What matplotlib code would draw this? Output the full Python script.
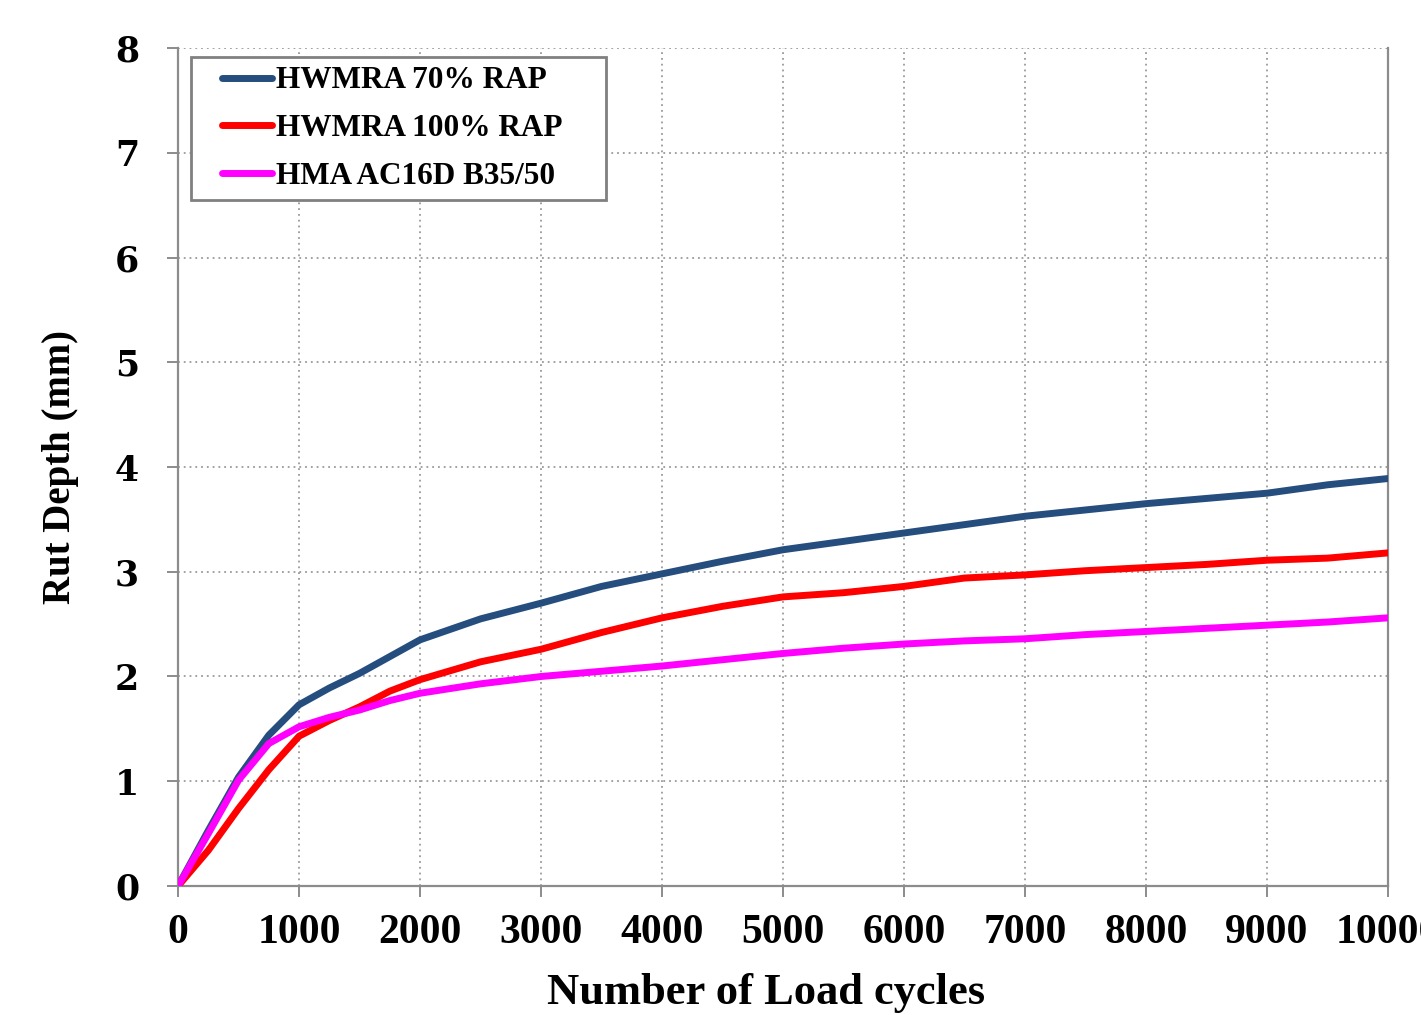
import numpy as np
import matplotlib
matplotlib.use("Agg")
import matplotlib.pyplot as plt
from matplotlib.patches import Rectangle

cycles = [0, 250, 500, 750, 1000, 1250, 1500, 1750, 2000, 2500, 3000, 3500, 4000,
          4500, 5000, 5500, 6000, 6500, 7000, 7500, 8000, 8500, 9000, 9500, 10000]

hwmra_70 = [0, 0.53, 1.04, 1.44, 1.73, 1.89, 2.03, 2.19, 2.35, 2.55, 2.70, 2.86, 2.98,
            3.10, 3.21, 3.29, 3.37, 3.45, 3.53, 3.59, 3.65, 3.70, 3.75, 3.83, 3.89]
hwmra_100 = [0, 0.34, 0.74, 1.11, 1.43, 1.58, 1.71, 1.86, 1.97, 2.14, 2.26, 2.42, 2.56,
             2.67, 2.76, 2.80, 2.86, 2.94, 2.97, 3.01, 3.04, 3.07, 3.11, 3.13, 3.18]
hma = [0, 0.50, 1.01, 1.36, 1.52, 1.61, 1.68, 1.77, 1.84, 1.93, 2.00, 2.05, 2.10,
       2.16, 2.22, 2.27, 2.31, 2.34, 2.36, 2.40, 2.43, 2.46, 2.49, 2.52, 2.56]

series_labels = ["HWMRA 70% RAP", "HWMRA 100% RAP", "HMA AC16D B35/50"]
series_colors = ["#254E7E", "#FF0000", "#FF00FF"]

x_ticks = list(range(0, 10001, 1000))
y_ticks = list(range(0, 9))

serif = "Liberation Serif"
gray = "#8C8C8C"

fig = plt.figure(figsize=(14.21, 10.15), dpi=100)
ax = fig.add_axes([0.1253, 0.1271, 0.8515, 0.8256])

for ys, lab, col in zip([hwmra_70, hwmra_100, hma], series_labels, series_colors):
    ax.plot(cycles, ys, color=col, lw=5, label=lab, solid_capstyle="round",
            solid_joinstyle="round", zorder=3)

ax.set_xlim(0, 10000)
ax.set_ylim(0, 8)
ax.set_xticks(x_ticks)
ax.set_yticks(y_ticks)
ax.set_xticklabels([str(v) for v in x_ticks], fontfamily=serif, fontweight="bold", fontsize=30)
ax.set_yticklabels([str(v) for v in y_ticks], fontfamily="DejaVu Serif", fontweight="bold", fontsize=25)

ax.grid(True, color="#9A9A9A", linestyle=(0, (1, 2.2)), linewidth=1.3)
ax.set_axisbelow(True)

ax.spines["top"].set_visible(False)
for s in ["left", "bottom", "right"]:
    ax.spines[s].set_color(gray)
    ax.spines[s].set_linewidth(1.6)
ax.tick_params(axis="both", direction="out", length=8, width=1.4, color=gray)
ax.tick_params(axis="x", pad=12)
ax.tick_params(axis="y", pad=20)

ax.set_xlabel("Number of Load cycles", fontfamily=serif, fontweight="bold", fontsize=32)
ax.xaxis.set_label_coords(0.486, -0.104)
ax.set_ylabel("Rut Depth (mm)", fontfamily=serif, fontweight="bold", fontsize=28, labelpad=26)

leg = ax.legend(loc="upper left", bbox_to_anchor=(0.0364, 0.978), borderaxespad=0,
                prop={"family": serif, "weight": "bold", "size": 22.5},
                handlelength=1.6, handletextpad=0.12, labelspacing=0.6,
                borderpad=0, frameon=False)
leg.set_zorder(6)

# legend frame with wider side padding, as in the reference
fig.canvas.draw()
bb = leg.get_window_extent().transformed(fig.transFigure.inverted())
pad_left = 31 / fig.bbox.width
pad_right = 44 / fig.bbox.width
pady = 9 / fig.bbox.height
ax.add_patch(Rectangle((bb.x0 - pad_left, bb.y0 - pady), bb.width + pad_left + pad_right,
                       bb.height + 2 * pady, transform=fig.transFigure, facecolor="white",
                       clip_on=False, edgecolor="#808080", linewidth=2, zorder=5))

fig.savefig("out.png", dpi=100)
